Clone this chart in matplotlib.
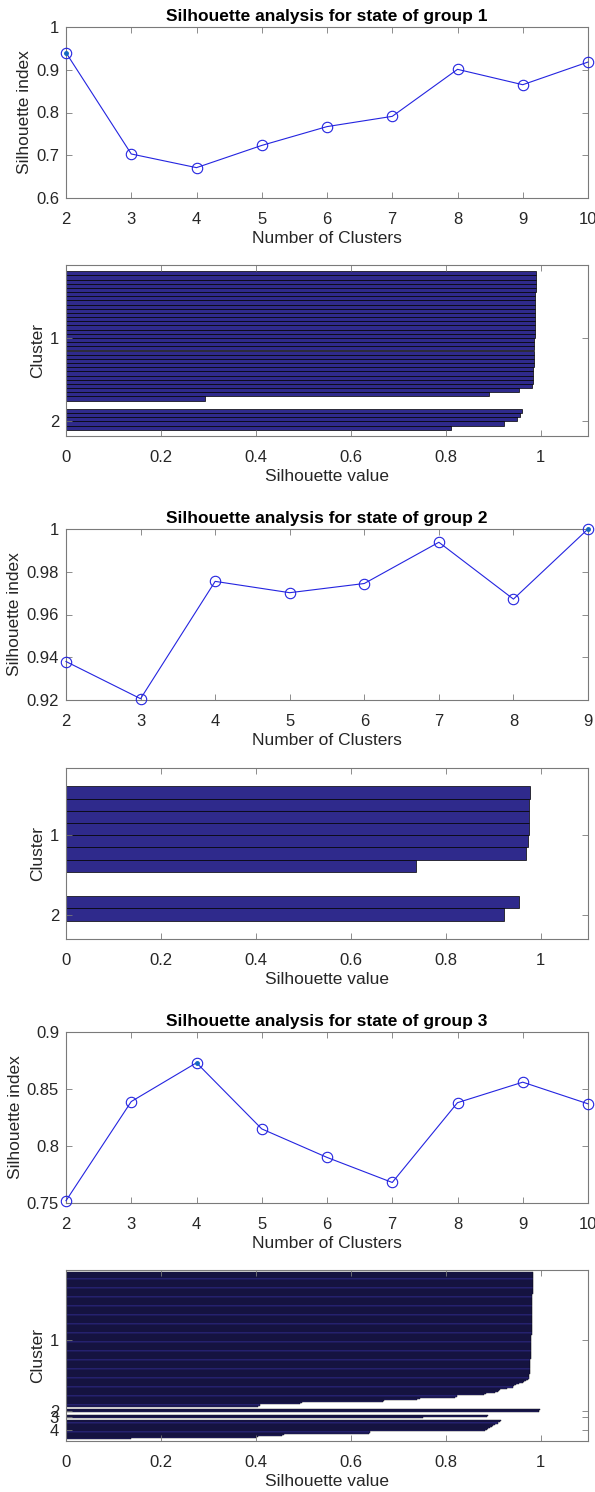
import numpy as np
import matplotlib
matplotlib.use("Agg")
import matplotlib.pyplot as plt
from matplotlib.ticker import FormatStrFormatter

plt.rcParams['font.family'] = ['Liberation Sans', 'DejaVu Sans']

# silhouette index against number of clusters, one curve per group
k_g1 = [2, 3, 4, 5, 6, 7, 8, 9, 10]
sil_g1 = [0.940, 0.703, 0.671, 0.723, 0.767, 0.791, 0.901, 0.865, 0.918]
k_g2 = [2, 3, 4, 5, 6, 7, 8, 9]
sil_g2 = [0.938, 0.9206, 0.9755, 0.9702, 0.9745, 0.9938, 0.9672, 1.000]
k_g3 = [2, 3, 4, 5, 6, 7, 8, 9, 10]
sil_g3 = [0.752, 0.839, 0.873, 0.815, 0.790, 0.768, 0.838, 0.856, 0.837]

# per-point silhouette values at the chosen k (sorted within each cluster)
g1_c1 = [0.990, 0.990, 0.990, 0.990, 0.990, 0.989, 0.989, 0.989, 0.989, 0.989,
         0.989, 0.988, 0.988, 0.988, 0.988, 0.988, 0.987, 0.987, 0.987, 0.987,
         0.986, 0.986, 0.986, 0.985, 0.985, 0.985, 0.984, 0.981, 0.954, 0.891,
         0.292]
g1_c2 = [0.961, 0.956, 0.951, 0.923, 0.812]

g2_c1 = [0.978, 0.976, 0.975, 0.975, 0.973, 0.970, 0.738]
g2_c2 = [0.954, 0.923]

g3_c1 = [0.985, 0.985, 0.985, 0.985, 0.985, 0.985, 0.985, 0.985,
         0.984, 0.984, 0.984, 0.984, 0.984, 0.984, 0.984, 0.984, 0.984, 0.984, 0.984, 0.984,
         0.983, 0.983, 0.983, 0.983, 0.983, 0.983, 0.983, 0.983, 0.983, 0.983, 0.983, 0.983,
         0.982, 0.982, 0.982, 0.982, 0.982, 0.982, 0.982, 0.982, 0.982, 0.982, 0.982, 0.982,
         0.981, 0.981, 0.981, 0.981, 0.981, 0.981, 0.981, 0.981, 0.981, 0.981, 0.981, 0.981,
         0.980, 0.980, 0.980, 0.980, 0.980, 0.980, 0.980, 0.980, 0.980, 0.980, 0.980, 0.980,
         0.979, 0.979, 0.979, 0.979, 0.979, 0.979, 0.979, 0.979, 0.979, 0.979,
         0.978, 0.978, 0.978, 0.978, 0.978, 0.978, 0.978, 0.978,
         0.977, 0.977, 0.977, 0.977, 0.977,
         0.976, 0.976, 0.976,
         0.975, 0.973, 0.970, 0.966, 0.962, 0.955, 0.948, 0.944, 0.942, 0.930,
         0.915, 0.912, 0.910, 0.905, 0.885, 0.880, 0.823, 0.820, 0.745, 0.740,
         0.670, 0.668, 0.497, 0.494, 0.408, 0.405]
g3_c2 = [0.998, 0.997, 0.996]
g3_c3 = [0.890, 0.888, 0.752]
g3_c4 = [0.917, 0.915, 0.910, 0.905, 0.900, 0.897, 0.893, 0.890, 0.887, 0.884,
         0.641, 0.638, 0.460, 0.455, 0.405, 0.400, 0.136]

AX_COL = '#7a7a7a'
TXT_COL = '#262626'
BAR_COL = '#2f2a8c'


def style(ax):
    for s in ax.spines.values():
        s.set_color(AX_COL)
        s.set_linewidth(0.8)
    ax.tick_params(direction='in', top=True, right=True, length=4, width=0.6,
                   color=AX_COL, labelcolor=TXT_COL, labelsize=12)
    ax.tick_params(axis='x', pad=10)
    ax.tick_params(axis='y', pad=5)


def index_panel(ax, k, sil, title, ylim, yticks):
    ax.plot(k, sil, '-o', color='#2424e0', lw=0.8, ms=7.5, mfc='none',
            mew=0.8, clip_on=False, zorder=3)
    best = int(np.argmax(sil))
    ax.plot(k[best], sil[best], '.', color='#1468c0', ms=5, clip_on=False, zorder=4)
    ax.set_xlim(k[0], k[-1])
    ax.set_ylim(*ylim)
    ax.set_xticks(k)
    ax.set_yticks(yticks)
    ax.yaxis.set_major_formatter(FormatStrFormatter('%g'))
    ax.set_title(title, fontsize=12.5, fontweight='bold', color='black', pad=4)
    ax.set_xlabel('Number of Clusters', fontsize=12.5, color=TXT_COL, labelpad=3)
    ax.set_ylabel('Silhouette index', fontsize=12.5, color=TXT_COL, labelpad=3)
    style(ax)


def silhouette_panel(ax, clusters, edge_lw=0.5):
    n = sum(len(c) for c in clusters)
    space = max(n // 50, 2)
    pos, vals, ticks = [], [], []
    cnt = space
    for c in clusters:
        p = np.arange(cnt + 1, cnt + len(c) + 1)
        pos.extend(p)
        vals.extend(c)
        ticks.append(p.mean() + 0.5 * space - 0.5)
        cnt += len(c) + space
    ax.barh(pos, vals, height=1.0, color=BAR_COL, edgecolor='black', linewidth=edge_lw)
    ax.set_ylim(cnt, 1)
    ax.set_xlim(0, 1.1)
    ax.set_xticks([0, 0.2, 0.4, 0.6, 0.8, 1])
    ax.xaxis.set_major_formatter(FormatStrFormatter('%g'))
    ax.set_yticks(ticks)
    ax.set_yticklabels([str(i + 1) for i in range(len(clusters))])
    ax.set_xlabel('Silhouette value', fontsize=12.5, color=TXT_COL, labelpad=3)
    ax.set_ylabel('Cluster', fontsize=12.5, color=TXT_COL, labelpad=3)
    style(ax)


W, H = 595, 1492
fig = plt.figure(figsize=(W / 100, H / 100), dpi=100)
left, width = 66 / W, 522 / W
tops = [27, 265, 529, 768, 1032, 1270]
hgt = 171
axs = [fig.add_axes([left, 1 - (t + hgt) / H, width, hgt / H]) for t in tops]

index_panel(axs[0], k_g1, sil_g1, 'Silhouette analysis for state of group 1',
            (0.6, 1.0), [0.6, 0.7, 0.8, 0.9, 1.0])
silhouette_panel(axs[1], [g1_c1, g1_c2])
index_panel(axs[2], k_g2, sil_g2, 'Silhouette analysis for state of group 2',
            (0.92, 1.0), [0.92, 0.94, 0.96, 0.98, 1.0])
silhouette_panel(axs[3], [g2_c1, g2_c2])
index_panel(axs[4], k_g3, sil_g3, 'Silhouette analysis for state of group 3',
            (0.75, 0.9), [0.75, 0.8, 0.85, 0.9])
silhouette_panel(axs[5], [g3_c1, g3_c2, g3_c3, g3_c4], edge_lw=0.3)

fig.savefig('out.png', dpi=100, facecolor='white')
